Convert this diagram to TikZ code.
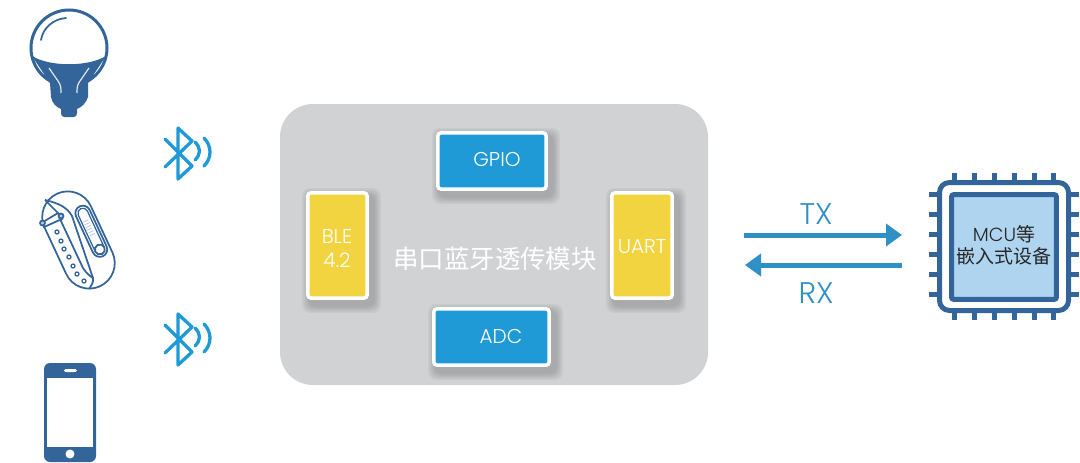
\documentclass[tikz,border=0pt]{standalone}
\usepackage{fontspec}
\setmainfont{Poppins Light}
\newfontfamily\cjk{Noto Sans CJK SC}
\usetikzlibrary{arrows.meta}
\definecolor{modulegray}{HTML}{D1D2D4}
\definecolor{portblue}{HTML}{1F9AD6}
\definecolor{portyellow}{HTML}{F1D43F}
\definecolor{devblue}{HTML}{33659B}
\definecolor{linkblue}{HTML}{2E90C5}
\definecolor{corefill}{HTML}{AED4F0}
\tikzset{
  port/.style={draw=white,line width=0.07cm,rounded corners=0.07cm,inner sep=0pt},
  porttext/.style={text=white,font=\fontsize{11.4}{13}\selectfont,inner sep=0pt,align=center},
  linktext/.style={text=linkblue,font=\fontsize{17}{20}\selectfont,inner sep=0pt},
  link/.style={linkblue,line width=0.1cm,-{Triangle[length=0.32cm,width=0.44cm]}},
  pin/.style={devblue,line width=0.1cm},
  blue tooth/.style={portblue,line width=0.066cm,line cap=round,line join=round},
  bandline/.style={devblue,line width=0.035cm}
}
% soft shadow behind a port box
\newcommand{\portshadow}[4]{
  \foreach \s in {8,6.5,5,3.5,2}
    \fill[black,opacity=0.04,rounded corners=0.16cm] (#1+4-\s,#2+5-\s) rectangle (#3+4+\s,#4+5+\s);
}
% bluetooth mark, drawn from its top point
\newcommand{\bluetoothmark}[1]{
  \begin{scope}[yshift=#1 cm]
  \draw[blue tooth] (165,325) -- (192,352) -- (178,365) -- (178,314) -- (192,327) -- (165,353);
  \draw[blue tooth] (195,328) .. controls (201,334) and (201,340) .. (195,346);
  \draw[blue tooth] (204,324) .. controls (212,332) and (212,344) .. (204,352);
  \end{scope}
}
\begin{document}
\begin{tikzpicture}[x=0.02cm,y=-0.02cm]
\useasboundingbox (0,0) rectangle (1080,463);

% bulb
\draw[devblue,line width=0.06cm] (69,48) circle (38);
\fill[devblue] (32,56) .. controls (50,67) and (88,67) .. (106,56) -- (88,83) -- (88,97) .. controls (86,103) and (82,107) .. (77,109) -- (77,113) .. controls (77,115) and (76,117) .. (74,117) -- (64,117) .. controls (62,117) and (61,115) .. (61,113) -- (61,109) .. controls (56,107) and (52,103) .. (51,97) -- (50,83) -- cycle;
\draw[devblue,line width=0.035cm,line cap=round] (41,40) .. controls (43,28) and (53,19) .. (66,18);
\draw[white!85!devblue,line width=0.024cm] (49,68) -- (58,81) .. controls (61,85) and (61,88) .. (61,93);
\draw[white!85!devblue,line width=0.024cm] (89,68) -- (80,81) .. controls (77,85) and (77,88) .. (77,93);

% band
\begin{scope}[shift={(78.5,240)},rotate=25]
\draw[bandline,rounded corners=0.51cm] (-25.5,-51) rectangle (25.5,51);
\draw[bandline,rounded corners=0.15cm] (7.8,-30) rectangle (22.8,25);
\draw[devblue,line width=0.025cm,rounded corners=0.1cm] (10.3,-27.5) rectangle (20.3,22.5);
\draw[bandline,fill=white] (15.3,17.6) circle (5);
\foreach \r in {-19,-13,-7,-1,5,11}
  \fill[devblue!35] (12,\r/2-5) rectangle (17.5,\r/2-4.2);
\end{scope}
\draw[bandline] (45,200) .. controls (58,203) and (67,207) .. (72,216) -- (93,278) .. controls (94,282) and (91,286) .. (89,289);
\draw[bandline] (60,219) -- (83,268) .. controls (87,274) and (90,276) .. (93,278);
\draw[bandline,fill=white] (43,222) -- (58,213) -- (62,219) -- (44,227) -- cycle;
\draw[bandline] (45,200) -- (58,213);
\draw[bandline,fill=devblue!30] (42.5,223) circle (2.5) (61,216) circle (2.5);
\foreach \hx/\hy in {57/232,61/241,64/249,69/257,73/266,77/274,84/281}
  \draw[devblue,line width=0.025cm] (\hx,\hy) circle (2);

% phone
\fill[devblue,rounded corners=0.12cm] (44,363) rectangle (96,462);
\fill[white] (47,378) rectangle (93,447);
\fill[white,rounded corners=0.03cm] (64,369) rectangle (77,372);
\fill[white] (70,454) circle (4.5);

% bluetooth
\bluetoothmark{3.72}
\bluetoothmark{0}

% module
\fill[modulegray,rounded corners=0.66cm] (280,104) rectangle (708,385);
\portshadow{436}{131}{548}{191}
\portshadow{306}{191}{369}{300}
\portshadow{610}{191}{674}{300}
\portshadow{432}{307}{551}{367}
\node[port,fill=portblue,minimum width=2.17cm,minimum height=1.13cm] (gpio) at (492,161) {};
\node[port,fill=portyellow,minimum width=1.19cm,minimum height=2.11cm] (ble) at (337.5,245.5) {};
\node[port,fill=portyellow,minimum width=1.21cm,minimum height=2.11cm] (uart) at (642,245.5) {};
\node[port,fill=portblue,minimum width=2.31cm,minimum height=1.13cm] (adc) at (491.5,337) {};
\node[porttext] (gpiotext) at (497,159) {GPIO};
\node[porttext] (bletext) at (337,236) {BLE};
\node[porttext] (bleversion) at (337,260) {4.2};
\node[porttext] (uarttext) at (642,247) {UART};
\node[porttext] (adctext) at (501,336) {ADC};
\node[text=white,font=\cjk\fontsize{14.5}{16}\selectfont,inner sep=0pt] (moduletext) at (495,259) {串口蓝牙透传模块};

% links
\coordinate (txa) at (744,235);
\coordinate (txb) at (902,235);
\coordinate (rxa) at (902,265);
\coordinate (rxb) at (745,265);
\draw[link] (txa) -- (txb);
\draw[link] (rxa) -- (rxb);
\node[linktext] (tx) at (816,214) {TX};
\node[linktext] (rx) at (816,293) {RX};

% chip
\foreach \p in {954,974,994,1014,1034,1053.5} {
  \draw[pin] (\p,173) -- (\p,182);
  \draw[pin] (\p,311) -- (\p,320);
}
\foreach \p in {194,214,234,254,274,294} {
  \draw[pin] (929,\p) -- (939,\p);
  \draw[pin] (1069,\p) -- (1079,\p);
}
\draw[devblue,line width=0.1cm,fill=white,rounded corners=0.2cm] (939.5,182.5) rectangle (1068.5,310.5);
\node[draw=devblue,line width=0.1cm,fill=corefill,rounded corners=0.05cm,minimum width=2.1cm,minimum height=2.1cm,inner sep=0pt] (core) at (1004,247) {};
\node[text=black!85,font=\fontsize{10.8}{13}\selectfont,inner sep=0pt] (mcutext) at (1004,234) {MCU\cjk 等};
\node[text=black!85,font=\cjk\fontsize{10.8}{13}\selectfont,inner sep=0pt] (devtext) at (1004,256) {嵌入式设备};
\end{tikzpicture}
\end{document}
